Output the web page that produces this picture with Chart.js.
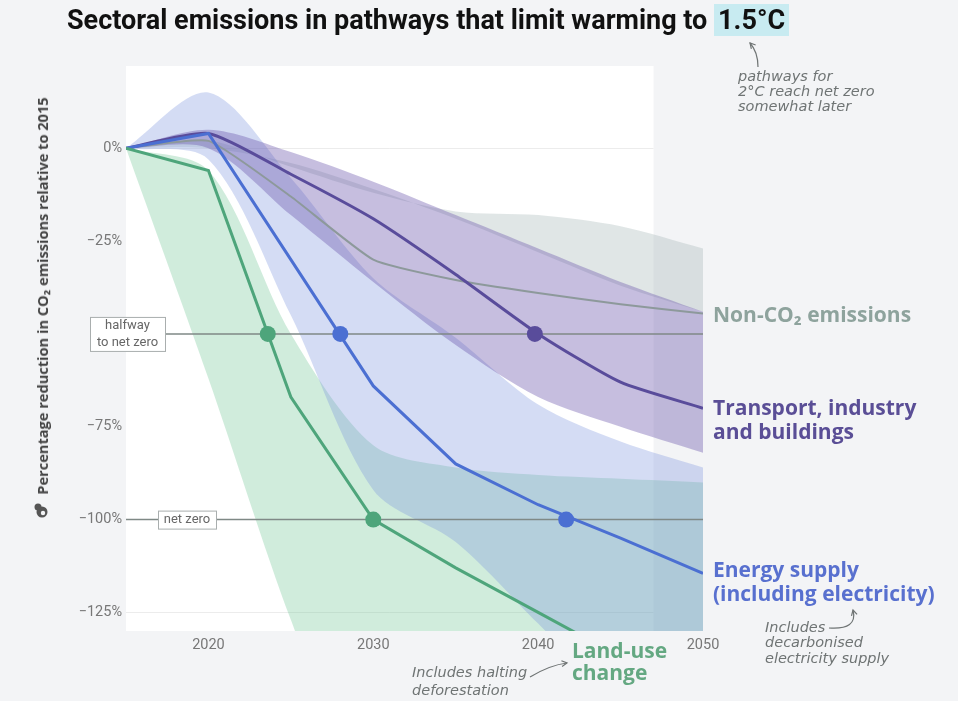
<!DOCTYPE html>
<html lang="en">
<head>
<meta charset="UTF-8">
<title>Sectoral emissions in pathways that limit warming to 1.5°C</title>
<script src="https://cdn.jsdelivr.net/npm/chart.js"></script>
<style>
    body { margin: 0; background: #f3f4f6; }
    .wrap { position: relative; width: 958px; height: 701px; overflow: hidden; }
    #chart { position: absolute; left: 0; top: 0; }
    .title {
        position: absolute; left: 67px; top: 4px;
        font-family: 'Roboto', sans-serif;
        font-weight: bold; font-size: 27px; color: #111; white-space: nowrap;
        transform-origin: 0 50%;
    }
    .title .hl { background: #c8ebf1; padding: 0 4px; }
    .ytitle {
        position: absolute; left: 42px; top: 296px;
        transform: translate(-50%, -50%) rotate(-90deg);
        font-family: 'Open Sans', sans-serif; font-weight: 700; font-size: 14.6px;
        color: #444; white-space: nowrap;
    }
</style>
</head>
<body>
<div class="wrap">
    <canvas id="chart" width="958" height="701"></canvas>
    <div class="title" id="title">Sectoral emissions in pathways that limit warming to <span class="hl">1.5°C</span></div>
    <div class="ytitle">Percentage reduction in CO₂ emissions relative to 2015</div>
</div>
<script>
// values, % change vs 2015
const years = [2015, 2020, 2025, 2030, 2035, 2040, 2045, 2050];

const transport   = [0, 4, -7, -19, -34, -50, -63, -70];
const transportHi = [0, 5, -1, -9, -18, -27, -36, -44];
const transportLo = [0, 0, -18, -36, -53, -67, -75, -82];

const energy   = [0, 4, -30, -64, -85, -96, -105, -114.5];
const energyHi = [0, 15, -8, -35, -51, -69, -79, -86];
const energyLo = [0, -3, -45, -92, -106, -128, -150, -165];

const landUse   = [0, -6, -67, -100, -113, -125, -137, -148];
const landUseHi = [0, -6, -50, -80, -86, -88, -89, -90];
const landUseLo = [0, -62, -127, -180, -200, -220, -240, -260];

const nonCO2   = [0, 2, -13, -30, -35.5, -39, -42, -44.5];
const nonCO2Hi = [0, 2, -5, -12, -17, -18, -21, -27];
const nonCO2Lo = [0, 0, -4, -11, -19, -28, -37, -44];

const halfwayLevel = -50;
const netZeroLevel = -100;
const halfwayYears = [2023.6, 2028, 2039.8];   // land-use, energy, transport
const netZeroYears = [2030, 2041.7];           // land-use, energy
const halfwayStart = 2017.36;

const xTicks = [2020, 2030, 2040, 2050];
const yTicks = [0, -25, -75, -100, -125];

const C = {
    transport: '#594c9b', energy: '#4b6fd2', land: '#4ea57b', non: '#8d999b',
    transportBand: 'rgba(105, 85, 170, 0.38)',
    energyBand: 'rgba(120, 145, 222, 0.32)',
    landBand: 'rgba(110, 195, 145, 0.32)',
    nonBand: 'rgba(160, 176, 178, 0.32)',
    ref: '#7f8986'
};

// fit the title to the width it has in the original
const titleEl = document.getElementById('title');
titleEl.style.transform = 'scaleX(' + (722 / titleEl.offsetWidth) + ')';

function pts(vals) {
    return years.map((y, i) => ({ x: y, y: vals[i] }));
}

const datasets = [];
function add(ds) { datasets.push(ds); return datasets.length - 1; }

function band(hi, lo, color, order) {
    const loIdx = add({ data: pts(lo), borderWidth: 0, pointRadius: 0, fill: false, tension: 0.3, order: order });
    add({ data: pts(hi), borderWidth: 0, pointRadius: 0, backgroundColor: color, fill: loIdx, tension: 0.3, order: order });
}

band(nonCO2Hi, nonCO2Lo, C.nonBand, 10);
band(landUseHi, landUseLo, C.landBand, 9);
band(energyHi, energyLo, C.energyBand, 8);
band(transportHi, transportLo, C.transportBand, 7);

// reference lines
add({ data: [{ x: halfwayStart, y: halfwayLevel }, { x: 2050, y: halfwayLevel }], borderColor: C.ref, borderWidth: 1.5, pointRadius: 0, order: 5 });
add({ data: [{ x: 2015, y: netZeroLevel }, { x: 2050, y: netZeroLevel }], borderColor: C.ref, borderWidth: 1.5, pointRadius: 0, order: 5 });

// pathway lines
add({ data: pts(nonCO2), borderColor: C.non, borderWidth: 2, pointRadius: 0, tension: 0.15, order: 4 });
add({ data: pts(landUse), borderColor: C.land, borderWidth: 3, pointRadius: 0, order: 3 });
add({ data: pts(energy), borderColor: C.energy, borderWidth: 3, pointRadius: 0, order: 3 });
add({ data: pts(transport), borderColor: C.transport, borderWidth: 3, pointRadius: 0, tension: 0.2, order: 3 });

// milestone dots
add({
    data: halfwayYears.map(x => ({ x: x, y: halfwayLevel })).concat(netZeroYears.map(x => ({ x: x, y: netZeroLevel }))),
    showLine: false, pointRadius: 8, pointBorderWidth: 0,
    pointBackgroundColor: [C.land, C.energy, C.transport, C.land, C.energy],
    order: 1
});

function boxLabel(ctx, lines, x, y, w, h) {
    ctx.fillStyle = '#fff';
    ctx.fillRect(x, y, w, h);
    ctx.strokeStyle = '#a9aeae';
    ctx.lineWidth = 1;
    ctx.strokeRect(x + 0.5, y + 0.5, w, h);
    ctx.fillStyle = '#666';
    ctx.font = '13px Roboto, sans-serif';
    ctx.textAlign = 'center';
    ctx.textBaseline = 'middle';
    const lh = h / lines.length;
    lines.forEach((t, i) => ctx.fillText(t, x + w / 2, y + lh * (i + 0.5) + 0.5));
}

function arrow(ctx, x0, y0, cx, cy, x1, y1) {
    ctx.beginPath();
    ctx.moveTo(x0, y0);
    ctx.quadraticCurveTo(cx, cy, x1, y1);
    ctx.stroke();
    const a = Math.atan2(y1 - cy, x1 - cx);
    ctx.beginPath();
    ctx.moveTo(x1 - 6 * Math.cos(a - 0.5), y1 - 6 * Math.sin(a - 0.5));
    ctx.lineTo(x1, y1);
    ctx.lineTo(x1 - 6 * Math.cos(a + 0.5), y1 - 6 * Math.sin(a + 0.5));
    ctx.stroke();
}

const decor = {
    id: 'decor',
    beforeDraw(chart) {
        const { ctx, chartArea, scales } = chart;
        ctx.save();
        ctx.fillStyle = '#f3f4f6';
        ctx.fillRect(0, 0, chart.width, chart.height);
        const right = scales.x.getPixelForValue(2047);
        ctx.fillStyle = '#ffffff';
        ctx.fillRect(chartArea.left, chartArea.top - 8, right - chartArea.left, chartArea.bottom - chartArea.top + 8);
        ctx.strokeStyle = '#ececec';
        ctx.lineWidth = 1;
        [0, -125].forEach(v => {
            const y = Math.round(scales.y.getPixelForValue(v)) + 0.5;
            ctx.beginPath(); ctx.moveTo(chartArea.left, y); ctx.lineTo(right, y); ctx.stroke();
        });
        // small CO2 icon under the axis title
        ctx.fillStyle = '#555';
        ctx.beginPath(); ctx.arc(42, 512, 5.5, 0, Math.PI * 2); ctx.fill();
        ctx.beginPath(); ctx.arc(38, 507, 3.5, 0, Math.PI * 2); ctx.fill();
        ctx.fillStyle = '#f3f4f6';
        ctx.beginPath(); ctx.arc(43, 513, 2.2, 0, Math.PI * 2); ctx.fill();
        ctx.restore();
    },
    afterDatasetsDraw(chart) {
        const { ctx, scales } = chart;
        ctx.save();
        const yh = scales.y.getPixelForValue(halfwayLevel);
        const yn = scales.y.getPixelForValue(netZeroLevel);
        boxLabel(ctx, ['halfway', 'to net zero'], 90, yh - 17, 75, 34);
        boxLabel(ctx, ['net zero'], 158, yn - 9, 58, 18);

        // series labels
        ctx.textAlign = 'left';
        ctx.textBaseline = 'middle';
        ctx.font = '700 21px "Open Sans", sans-serif';
        ctx.fillStyle = '#8ea39d';
        ctx.fillText('Non-CO₂ emissions', 713, 316);
        ctx.fillStyle = '#5a4e96';
        ctx.fillText('Transport, industry', 713, 409);
        ctx.fillText('and buildings', 713, 433);
        ctx.fillStyle = '#5870cf';
        ctx.fillText('Energy supply', 713, 571);
        ctx.fillText('(including electricity)', 713, 595);
        ctx.fillStyle = '#64a882';
        ctx.fillText('Land-use', 572, 652);
        ctx.fillText('change', 572, 674);

        // handwritten notes
        ctx.fillStyle = '#6f7474';
        ctx.font = 'italic 14.5px "DejaVu Sans", sans-serif';
        ctx.fillText('pathways for', 738, 77);
        ctx.fillText('2°C reach net zero', 738, 92);
        ctx.fillText('somewhat later', 738, 107);
        ctx.fillText('Includes halting', 412, 673);
        ctx.fillText('deforestation', 412, 691);
        ctx.fillText('Includes', 765, 628);
        ctx.fillText('decarbonised', 765, 643);
        ctx.fillText('electricity supply', 765, 659);

        ctx.strokeStyle = '#6f7474';
        ctx.lineWidth = 1.2;
        arrow(ctx, 758, 67, 758, 52, 750, 43);
        arrow(ctx, 530, 677, 550, 665, 567, 663);
        arrow(ctx, 829, 628, 858, 630, 853, 610);
        ctx.restore();
    }
};

const tickFont = { family: 'Roboto, sans-serif', size: 14.5 };

new Chart(document.getElementById('chart'), {
    type: 'line',
    data: { datasets: datasets },
    options: {
        responsive: false,
        animation: false,
        layout: { padding: { left: 66, top: 74, right: 255, bottom: 45 } },
        plugins: { legend: { display: false }, tooltip: { enabled: false } },
        scales: {
            x: {
                type: 'linear', min: 2015, max: 2050,
                afterBuildTicks: s => { s.ticks = xTicks.map(v => ({ value: v })); },
                afterFit: s => { s.height = 25; },
                grid: { display: false, drawTicks: false }, border: { display: false },
                ticks: { color: '#777', padding: 6, font: tickFont, callback: v => String(v) }
            },
            y: {
                type: 'linear', min: -130, max: 20,
                afterBuildTicks: s => { s.ticks = yTicks.map(v => ({ value: v })); },
                afterFit: s => { s.width = 60; },
                grid: { display: false, drawTicks: false }, border: { display: false },
                ticks: { color: '#777', padding: 4, font: tickFont,
                    callback: v => v === 0 ? '0%' : '\u2212' + Math.abs(v) + '%' }
            }
        }
    },
    plugins: [decor]
});
</script>
</body>
</html>
